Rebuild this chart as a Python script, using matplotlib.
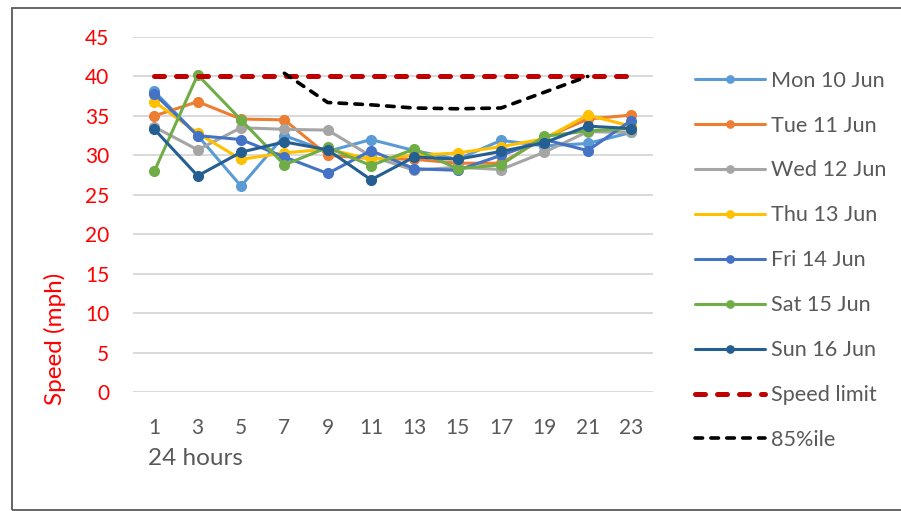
import numpy as np
import matplotlib
matplotlib.use("Agg")
import matplotlib.pyplot as plt
from matplotlib.patches import Rectangle

plt.rcParams["font.family"] = ["Lato", "DejaVu Sans"]

# --- data ---
hours = [1, 3, 5, 7, 9, 11, 13, 15, 17, 19, 21, 23]

mon = [38.1, 32.5, 26.1, 32.5, 30.5, 32.0, 30.6, 29.5, 31.9, 31.2, 31.5, 32.9]
tue = [35.0, 36.8, 34.6, 34.5, 30.0, 29.6, 29.5, 29.0, 29.0, 32.2, 34.6, 35.1]
wed = [33.6, 30.7, 33.5, 33.3, 33.2, 29.9, 28.1, 28.5, 28.2, 30.4, 33.0, 32.9]
thu = [36.8, 32.8, 29.5, 30.3, 30.8, 29.5, 30.0, 30.3, 31.1, 32.1, 35.1, 33.7]
fri = [37.8, 32.5, 32.0, 29.8, 27.7, 30.6, 28.3, 28.1, 30.0, 32.0, 30.6, 34.4]
sat = [28.0, 40.2, 34.5, 28.8, 31.0, 28.7, 30.8, 28.3, 28.8, 32.4, 33.1, 33.4]
sun = [33.3, 27.4, 30.4, 31.7, 30.7, 26.9, 29.8, 29.5, 30.5, 31.6, 33.7, 33.4]
speed_limit = [40] * 12
pct85 = [np.nan, np.nan, np.nan, 40.4, 36.7, 36.4, 36.0, 35.9, 36.0, 38.0, 40.0, np.nan]

series = [
    ("Mon 10 Jun", mon, "#5B9BD5"),
    ("Tue 11 Jun", tue, "#ED7D31"),
    ("Wed 12 Jun", wed, "#A5A5A5"),
    ("Thu 13 Jun", thu, "#FFC000"),
    ("Fri 14 Jun", fri, "#4472C4"),
    ("Sat 15 Jun", sat, "#70AD47"),
    ("Sun 16 Jun", sun, "#255E91"),
]

W, H = 901, 511
fig = plt.figure(figsize=(W / 100, H / 100), dpi=100)
ax = fig.add_axes([132.7 / W, (H - 392) / H, 520 / W, 355 / H])

for label, vals, color in series:
    ax.plot(hours, vals, color=color, linewidth=2.2, marker="o", markersize=7,
            label=label, solid_capstyle="round", zorder=3)

ax.plot(hours, speed_limit, color="#C00000", linewidth=3.6, linestyle=(0, (2.0, 2.4)),
        dash_capstyle="round", label="Speed limit", zorder=4)
ax.plot(hours, pct85, color="black", linewidth=2.6, linestyle=(0, (2.1, 2.3)),
        dash_capstyle="round", label="85%ile", zorder=5)

ax.set_xlim(0, 24)
ax.set_ylim(0, 45)
ax.set_yticks(range(0, 46, 5))
ax.set_xticks(hours)
ax.grid(True, axis="y", color="#D9D9D9", linewidth=1.4, zorder=0)
ax.set_axisbelow(True)
for s in ax.spines.values():
    s.set_visible(False)
ax.tick_params(axis="both", length=0)
ax.tick_params(axis="y", colors="#FF0000", labelsize=15, pad=17)
ax.tick_params(axis="x", colors="#595959", labelsize=15, pad=19)

fig.text(55 / W, (H - 339) / H, "Speed (mph)", rotation=90, color="#FF0000",
         fontsize=17.5, ha="center", va="center")
fig.text(148 / W, (H - 458) / H, "24 hours", color="#595959",
         fontsize=17.5, ha="left", va="center")

leg = fig.legend(loc="upper left", bbox_to_anchor=(686 / W, (H - 62) / H),
                 frameon=False, fontsize=15.6, handlelength=3.23, handletextpad=0.28,
                 labelspacing=1.15, markerscale=0.75, borderaxespad=0)
for t in leg.get_texts():
    t.set_color("#595959")

# chart area border
fig.patches.append(Rectangle((12 / W, 1 / H), 1.0, (510 - 8) / H, transform=fig.transFigure,
                             fill=False, edgecolor="#595959", linewidth=1.3, clip_on=False))

fig.savefig("out.png", dpi=100, facecolor="white")
